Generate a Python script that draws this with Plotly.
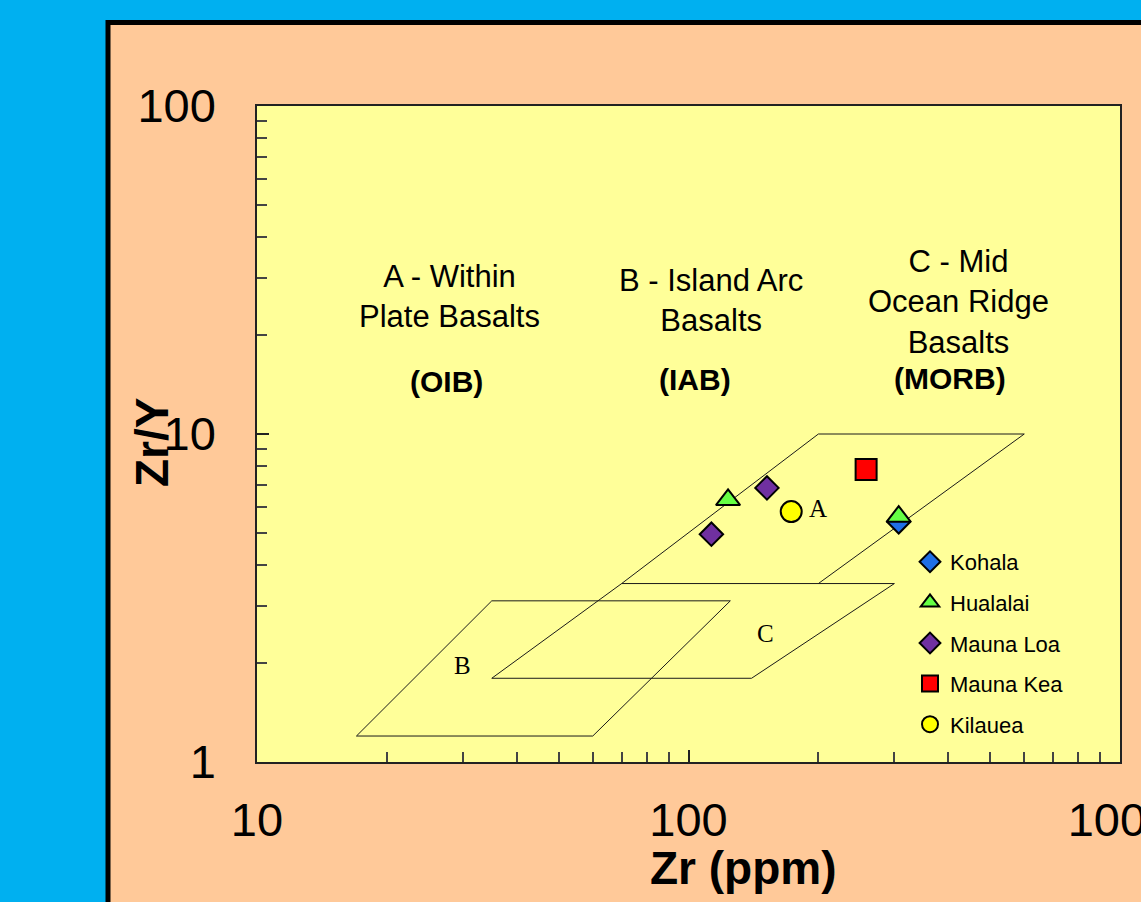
import math
import plotly.graph_objects as go

# ---------------- data ----------------
series_names = ["Kohala", "Hualalai", "Mauna Loa", "Mauna Kea", "Kilauea"]
kohala_zr = [307]
kohala_zry = [5.4]
hualalai_zr = [123.5, 307]
hualalai_zry = [6.3, 5.6]
maunaloa_zr = [152, 113]
maunaloa_zry = [6.85, 4.95]
maunakea_zr = [258]
maunakea_zry = [7.8]
kilauea_zr = [173]
kilauea_zry = [5.8]

# discrimination fields (Pearce & Norry)
field_a_zr = [70, 200, 600, 200]
field_a_zry = [3.5, 10, 10, 3.5]
field_b_zr = [17, 60, 125, 35, 17]
field_b_zry = [1.2, 1.2, 3.1, 3.1, 1.2]
field_c_zr = [35, 140, 300, 70, 35]
field_c_zry = [1.8, 1.8, 3.5, 3.5, 1.8]

x_tick_vals = [10, 100, 1000]
x_tick_text = ["10", "100", "1000"]
y_tick_vals = [1, 10, 100]
y_tick_text = ["1", "10", "100"]
x_minor = [v * d for d in (10, 100) for v in range(2, 10)]
y_minor = [v * d for d in (1, 10) for v in range(2, 10)]

# ---------------- layout geometry ----------------
W, H = 1141, 902
L, R, T, B = 257, 1120, 106, 762


def px(xp):
    return (xp - L) / (R - L)


def py(yp):
    return (B - yp) / (B - T)


FONT = "Liberation Sans, Arial, sans-serif"
SERIF = "Liberation Serif, Times New Roman, serif"

fig = go.Figure()

line_style = dict(color="#1a1a1a", width=1)
for fx, fy in [(field_b_zr, field_b_zry), (field_c_zr, field_c_zry), (field_a_zr, field_a_zry)]:
    fig.add_trace(go.Scatter(x=fx, y=fy, mode="lines", line=line_style,
                             showlegend=False, hoverinfo="skip"))

mk_line = dict(color="black", width=2)
series = [
    ("Kohala", kohala_zr, kohala_zry, "diamond", "#1f6fe6", 18),
    ("Hualalai", hualalai_zr, hualalai_zry, "triangle-up", "#66ff44", 21),
    ("Mauna Loa", maunaloa_zr, maunaloa_zry, "diamond", "#7030a0", 18),
    ("Mauna Kea", maunakea_zr, maunakea_zry, "square", "#ff0000", 21),
    ("Kilauea", kilauea_zr, kilauea_zry, "circle", "#ffff00", 21),
]
for i, (name, xs, ys, sym, col, sz) in enumerate(series):
    fig.add_trace(go.Scatter(
        x=xs, y=ys, mode="markers", name=name, legendgroup=f"g{i}",
        marker=dict(symbol=sym, color=col, size=sz, line=mk_line),
    ))

shapes = [
    # peach panel with black frame
    dict(type="rect", xref="paper", yref="paper",
         x0=px(108), x1=1.3, y0=-0.4, y1=py(22.5),
         fillcolor="#ffc999", line=dict(color="black", width=5), layer="below"),
    # yellow plot area
    dict(type="rect", xref="paper", yref="paper", x0=0, x1=1, y0=0, y1=1,
         fillcolor="#ffff99", line=dict(width=0), layer="below"),
]

ann = []


def text(xp, yp, t, size, family=FONT, **kw):
    ann.append(dict(x=px(xp), y=py(yp), xref="paper", yref="paper", text=t,
                    showarrow=False, font=dict(family=family, size=size, color="black"),
                    xanchor="center", yanchor="middle", **kw))


text(449, 296, "A - Within<br>Plate Basalts", 31)
text(446, 381, "<b>(OIB)</b>", 30)
text(711, 300, "B - Island Arc<br>Basalts", 31)
text(695, 379, "<b>(IAB)</b>", 30)
text(958, 302, "C - Mid<br>Ocean Ridge<br>Basalts", 31)
text(950, 378, "<b>(MORB)</b>", 30)
text(818, 509, "A", 25, SERIF)
text(462, 665, "B", 25, SERIF)
text(765, 633, "C", 25, SERIF)
text(152, 443, "<b>Zr/Y</b>", 46, textangle=-90)
text(743, 868, "<b>Zr (ppm)</b>", 46)

axis_common = dict(
    type="log", showgrid=False, zeroline=False, automargin=False,
    showline=True, linecolor="#222", linewidth=1.5, mirror=True,
    ticks="inside", ticklen=12, tickwidth=1.5, tickcolor="#222",
    tickfont=dict(family=FONT, size=47, color="black"),
    ticklabeloverflow="allow",
)

fig.update_layout(
    width=W, height=H,
    margin=dict(l=L, r=W - R, t=T, b=H - B, pad=0, autoexpand=False),
    paper_bgcolor="#00b0f0",
    plot_bgcolor="rgba(0,0,0,0)",
    shapes=shapes,
    annotations=ann,
    showlegend=True,
    legend=dict(x=px(910), y=py(541), xanchor="left", yanchor="top",
                bgcolor="rgba(0,0,0,0)", borderwidth=0,
                font=dict(family=FONT, size=22, color="black"),
                traceorder="grouped", tracegroupgap=9, itemsizing="trace"),
    xaxis=dict(axis_common, range=[1, 3], tickvals=x_tick_vals, ticktext=x_tick_text,
               ticklabelstandoff=16,
               minor=dict(tickvals=x_minor, ticks="inside", ticklen=10, tickwidth=1.5,
                          tickcolor="#444")),
    yaxis=dict(axis_common, range=[0, 2], tickvals=y_tick_vals, ticktext=y_tick_text,
               ticklabelstandoff=30,
               minor=dict(tickvals=y_minor, ticks="inside", ticklen=10, tickwidth=1.5,
                          tickcolor="#444")),
)

fig.write_html("out.html", config={"displayModeBar": False},
               post_script="document.body.style.margin='0';document.body.style.overflow='hidden';")
